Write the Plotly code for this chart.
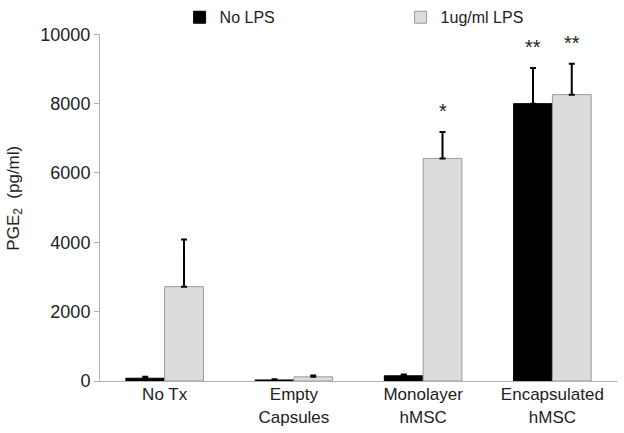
import plotly.graph_objects as go

FONT = "Liberation Sans, Arial, sans-serif"

groups = ["No Tx", "Empty<br>Capsules", "Monolayer<br>hMSC", "Encapsulated<br>hMSC"]
no_lps = [80, 30, 150, 8000]
no_lps_err = [40, 20, 40, 1030]
lps = [2720, 120, 6420, 8260]
lps_err = [1360, 40, 760, 890]
stars_no_lps = ["", "", "", "**"]
stars_lps = ["", "", "*", "**"]

fig = go.Figure()
fig.add_trace(go.Bar(
    x=groups, y=no_lps, name="No LPS",
    marker=dict(color="black", line=dict(color="black", width=1)),
    error_y=dict(type="data", symmetric=False, array=no_lps_err,
                 arrayminus=[0] * len(no_lps), color="black", thickness=2, width=3),
))
fig.add_trace(go.Bar(
    x=groups, y=lps, name="1ug/ml LPS",
    marker=dict(color="#dcdcdc", line=dict(color="#9a9a9a", width=1)),
    error_y=dict(type="data", symmetric=False, array=lps_err,
                 arrayminus=[0] * len(lps), color="black", thickness=2, width=3),
))

# significance markers above the error bars
for i, g in enumerate(groups):
    for s, v, e, xs in ((stars_no_lps[i], no_lps[i], no_lps_err[i], -0.15),
                        (stars_lps[i], lps[i], lps_err[i], 0.15)):
        if s:
            fig.add_annotation(x=i + xs, y=v + e, text=s, showarrow=False,
                               yshift=21, font=dict(size=20, color="#222"))

fig.update_layout(
    width=624, height=433,
    font=dict(family=FONT, size=15, color="#222"),
    plot_bgcolor="white", paper_bgcolor="white",
    margin=dict(l=100, r=7, t=29, b=52),
    barmode="group", bargap=0.4, bargroupgap=0,
    legend=dict(orientation="h", x=0.154, y=0.96, yref="container",
                yanchor="middle", xanchor="left",
                font=dict(size=16), entrywidth=176, entrywidthmode="pixels",
                bgcolor="rgba(0,0,0,0)", itemwidth=30),
)
fig.update_xaxes(showline=True, linecolor="#b0b0b0", linewidth=1, ticks="",
                 tickfont=dict(size=17), range=[-0.5, 3.5], ticklabelstandoff=-2,
                 automargin=False)
# leading spaces nudge the title a little above the plot centre, as in the original
fig.update_yaxes(range=[0, 10000], dtick=2000, tickformat="d",
                 showgrid=False, zeroline=False, automargin=False,
                 showline=True, linecolor="#b0b0b0", linewidth=1,
                 ticks="outside", ticklen=5, tickcolor="#b0b0b0",
                 tickfont=dict(size=18),
                 title=dict(text="&nbsp;&nbsp;&nbsp;&nbsp;PGE<sub>2</sub>  (pg/ml)",
                            font=dict(size=17), standoff=16))

# page body has a default 8px margin; drop it so the figure sits at the corner
fig.write_html("out.html", config={"displayModeBar": False},
               post_script="document.body.style.margin='0';")
